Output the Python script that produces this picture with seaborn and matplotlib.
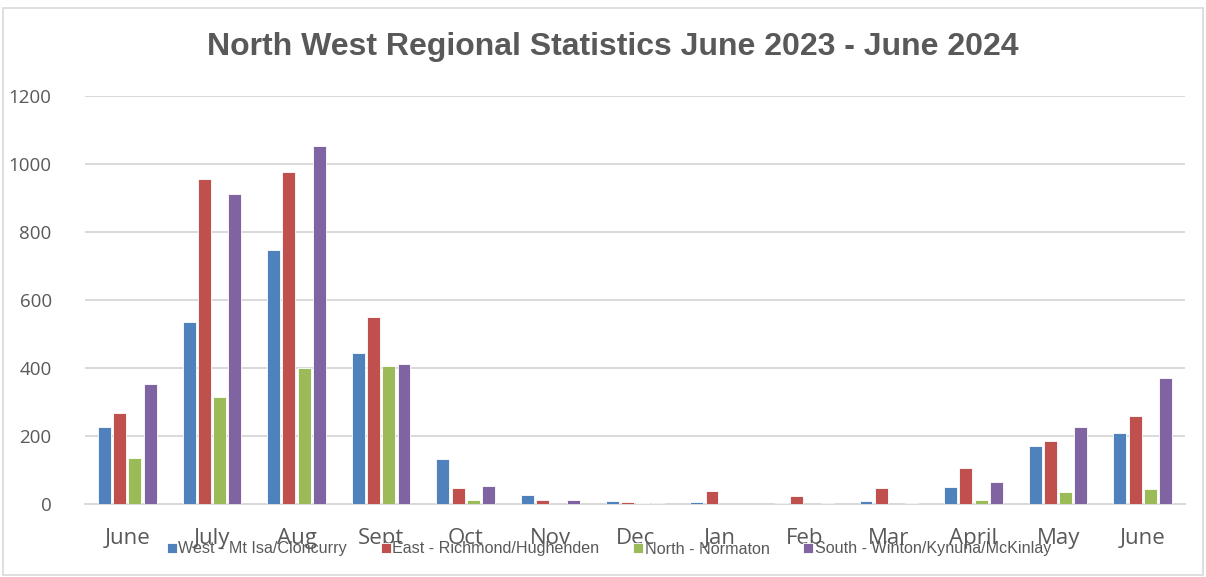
import matplotlib
matplotlib.use("Agg")
import matplotlib.pyplot as plt
import seaborn as sns
import pandas as pd
from matplotlib.patches import Rectangle

# Monthly counts per sub-region, June 2023 - June 2024
periods = ["2023-06", "2023-07", "2023-08", "2023-09", "2023-10", "2023-11", "2023-12",
           "2024-01", "2024-02", "2024-03", "2024-04", "2024-05", "2024-06"]
month_labels = ["June", "July", "Aug", "Sept", "Oct", "Nov", "Dec",
                "Jan", "Feb", "Mar", "April", "May", "June"]
series_names = ["West - Mt Isa/Cloncurry", "East - Richmond/Hughenden",
                "North - Normaton", "South - Winton/Kynuna/McKinlay"]
west = [227, 534, 747, 443, 132, 26, 9, 6, 3, 8, 50, 171, 209]
east = [268, 956, 976, 550, 47, 13, 6, 38, 24, 46, 106, 186, 258]
north = [134, 315, 401, 406, 13, 0, 3, 0, 0, 0, 11, 34, 44]
south = [353, 911, 1052, 412, 54, 13, 3, 0, 4, 3, 65, 226, 371]
colors = ["#4F81BD", "#C0504D", "#9BBB59", "#8064A2"]

rows = []
for name, vals in zip(series_names, [west, east, north, south]):
    for p, v in zip(periods, vals):
        rows.append({"period": p, "region": name, "count": v})
df = pd.DataFrame(rows)

sns.set_theme(style="white")
plt.rcParams["font.family"] = ["DejaVu Sans"]

fig = plt.figure(figsize=(12.06, 5.77), dpi=100)
ax = fig.add_axes([85 / 1206, 1 - 504 / 577, (1185 - 85) / 1206, (504 - 96) / 577])

sns.barplot(data=df, x="period", y="count", hue="region", order=periods,
            hue_order=series_names, palette=colors, saturation=1, width=0.72,
            gap=0.15, edgecolor="white", linewidth=0.6, ax=ax, zorder=3)

ax.set_ylim(0, 1200)
ax.set_xlim(-0.5, len(periods) - 0.5)
ax.set_yticks(range(0, 1201, 200))
ax.yaxis.grid(True, color="#D9D9D9", linewidth=1.4, zorder=0)
ax.set_axisbelow(True)
for s in ["top", "right", "left"]:
    ax.spines[s].set_visible(False)
ax.spines["bottom"].set_color("#D9D9D9")
ax.spines["bottom"].set_linewidth(1.4)
ax.set_xlabel("")
ax.set_ylabel("")
ax.set_xticks(range(len(periods)))
ax.set_xticklabels(month_labels, fontsize=16, color="#595959", family="Open Sans")
ax.tick_params(axis="x", length=0, pad=17)
ax.tick_params(axis="y", length=0, pad=24, labelsize=13.5, labelcolor="#595959")
for t in ax.get_yticklabels():
    t.set_family("Open Sans")

fig.text(0.508, 1 - 47 / 577, "North West Regional Statistics June 2023 - June 2024",
         ha="center", va="center", fontsize=23, fontweight="bold",
         color="#595959", family="Liberation Sans")

handles, labels = ax.get_legend_handles_labels()
ax.legend(handles, labels, loc="center", bbox_to_anchor=(0.505, 1 - 549 / 577),
          bbox_transform=fig.transFigure, ncol=4, frameon=False,
          handlelength=0.6, handleheight=0.6, handletextpad=0.1, columnspacing=2.1,
          prop={"family": "Liberation Sans", "size": 11.6}, labelcolor="#595959")

# light chart border
fig.patches.append(Rectangle((3 / 1206, 2 / 577), 1200 / 1206, 567 / 577,
                             transform=fig.transFigure, fill=False,
                             edgecolor="#D9D9D9", linewidth=1.2))

fig.savefig("out.png", dpi=100)
